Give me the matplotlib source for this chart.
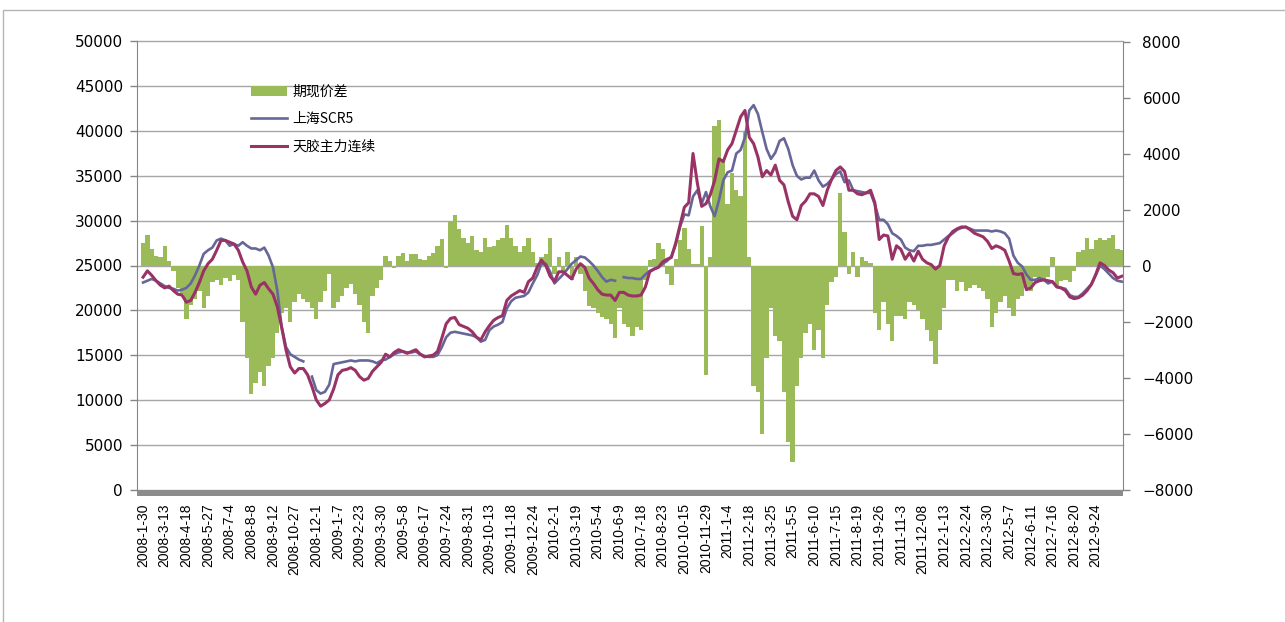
import numpy as np
import matplotlib
matplotlib.use("Agg")
import matplotlib.pyplot as plt
from matplotlib.patches import Rectangle
from matplotlib.font_manager import FontProperties

nan = np.nan

# tick labels shown on the category axis (every 5th weekly sample)
date_labels = [
    "2008-1-30", "2008-3-13", "2008-4-18", "2008-5-27", "2008-7-4", "2008-8-8",
    "2008-9-12", "2008-10-27", "2008-12-1", "2009-1-7", "2009-2-23", "2009-3-30",
    "2009-5-8", "2009-6-17", "2009-7-24", "2009-8-31", "2009-10-13", "2009-11-18",
    "2009-12-24", "2010-2-1", "2010-3-19", "2010-5-4", "2010-6-9", "2010-7-18",
    "2010-8-23", "2010-10-15", "2010-11-29", "2011-1-4", "2011-2-18", "2011-3-25",
    "2011-5-5", "2011-6-10", "2011-7-15", "2011-8-19", "2011-9-26", "2011-11-3",
    "2011-12-08", "2012-1-13", "2012-2-24", "2012-3-30", "2012-5-7", "2012-6-11",
    "2012-7-16", "2012-8-20", "2012-9-24",
]

# 天胶主力连续 (left axis)
tianjiao = [
    23700, 24400, 23900, 23300, 22800, 22500, 22700, 22200, 21800, 21700,
    20900, 21100, 22000, 23100, 24400, 25200, 25700, 26700, 27800, 27800,
    27600, 27400, 26700, 25400, 24400, 22600, 21800, 22800, 23100, 22400,
    21800, 20400, 18100, 15600, 13700, 13000, 13500, 13500, 12800, 11500,
    10000, 9300, 9600, 10000, 11200, 12800, 13300, 13400, 13600, 13300,
    12600, 12200, 12400, 13200, 13700, 14200, 15100, 14800, 15300, 15600,
    15400, 15200, 15400, 15600, 15100, 14800, 14900, 15000, 15400, 16900,
    18500, 19100, 19200, 18400, 18200, 18000, 17600, 17000, 16700, 17600,
    18300, 18900, 19200, 19400, 21100, 21600, 21900, 22200, 22000, 23200,
    23600, 24800, 25600, 25000, 23800, 23200, 24300, 24300, 23900, 23500,
    24600, 25200, 24800, 23600, 23000, 22300, 21800, 21700, 21700, 21100,
    22000, 22000, 21700, 21600, 21600, 21700, 22600, 24300, 24600, 24800,
    25400, 25700, 25900, 27500, 29500, 31500, 32000, 37500, 34200, 31600,
    31900, 32900, 34500, 36900, 36600, 37900, 38600, 40100, 41600, 42300,
    39300, 38600, 37100, 34900, 35600, 35100, 36200, 34500, 34000, 32100,
    30500, 30100, 31700, 32200, 33000, 33000, 32700, 31700, 33400, 34600,
    35600, 36000, 35500, 33400, 33400, 33000, 32900, 33100, 33400, 32000,
    27900, 28400, 28300, 25700, 27200, 26800, 25700, 26400, 25500, 26600,
    25700, 25300, 25100, 24600, 25000, 27200, 28200, 28800, 29100, 29300,
    29300, 29000, 28600, 28400, 28200, 27700, 26900, 27200, 27000, 26700,
    25500, 24100, 24000, 24100, 22300, 22500, 23100, 23300, 23400, 23300,
    23200, 22600, 22500, 22200, 21500, 21300, 21400, 21700, 22200, 22900,
    24000, 25300, 25000, 24500, 24200, 23600, 23800,
]

# 上海SCR5 (left axis), nan = missing quote
scr5 = [
    23100, 23300, 23500, 23300, 23000, 22700, 22500, 22400, 22200, 22300,
    22500, 23000, 23900, 25000, 26300, 26700, 27000, 27800, 28000, 27800,
    27200, 27400, 27200, 27600, 27200, 26900, 26900, 26700, 27000, 26100,
    24800, 22200, 18200, 15900, 15100, 14800, 14500, 14300, nan, 12600,
    11100, 10700, 10900, 11700, 14000, 14100, 14200, 14300, 14400, 14300,
    14400, 14400, 14400, 14300, 14100, 14400, 14500, 14800, 15100, 15300,
    15400, 15300, 15300, 15400, 15100, 14900, 14800, 14800, 15000, 15900,
    17000, 17500, 17600, 17500, 17400, 17300, 17200, 17000, 16500, 16700,
    17800, 18200, 18400, 18700, 20200, 21000, 21400, 21500, 21600, 22000,
    23000, 23900, 25200, 25200, 24300, 23000, 23500, 24000, 24600, 25200,
    25600, 26000, 25900, 25500, 25000, 24400, 23700, 23200, 23400, 23300,
    nan, 23700, 23600, 23600, 23500, 23500, 24000, 24400, 24600, 24800,
    25200, 25500, 26000, 27300, 29300, 30700, 30600, 32700, 33400, 31900,
    33200, 31600, 30500, 32300, 34500, 35400, 35600, 37500, 37900, 39300,
    42300, 42900, 41900, 39900, 38000, 36900, 37600, 38900, 39200, 38000,
    36200, 35000, 34600, 34800, 34800, 35600, 34500, 33800, 34100, 34600,
    35200, 35500, 34300, 34500, 33400, 33300, 33200, 33100, 33100, 31800,
    30100, 30100, 29600, 28600, 28300, 27900, 27000, 26700, 26600, 27200,
    27200, 27300, 27300, 27400, 27500, 27900, 28300, 28600, 29000, 29200,
    29300, 29100, 28900, 28900, 28900, 28900, 28800, 28900, 28800, 28600,
    28000, 26100, 25300, 24900, 24000, 23400, 23400, 23600, 23400, 23000,
    23200, 22700, 22500, 22400, 21700, 21500, 21500, 21900, 22400, 22900,
    23900, 25000, 24600, 24100, 23600, 23300, 23200,
]

# 期现价差 (right axis)
basis = [
    800, 1100, 600, 350, 300, 700, 150, -200, -800, -1000,
    -1900, -1400, -1200, -900, -1500, -1100, -600, -500, -700, -450,
    -550, -350, -500, -2000, -3300, -4600, -4200, -3800, -4300, -3600,
    -3300, -2400, -1700, -1500, -2000, -1300, -1000, -1200, -1300, -1500,
    -1900, -1300, -900, -300, -1500, -1300, -1100, -800, -650, -1000,
    -1400, -2000, -2400, -1100, -800, -500, 350, 150, -80, 350,
    450, 150, 400, 420, 250, 200, 350, 450, 700, 950,
    -100, 1600, 1800, 1300, 1000, 800, 1050, 550, 500, 1000,
    650, 700, 900, 1000, 1450, 1000, 700, 500, 700, 1000,
    500, 80, 300, 400, 1000, -300, 300, -200, 500, -500,
    300, -300, -900, -1450, -1500, -1700, -1850, -1900, -2100, -2600,
    -1500, -2100, -2200, -2500, -2200, -2300, -500, 200, 250, 800,
    600, -300, -700, 250, 900, 1350, 600, 50, 50, 1400,
    -3900, 300, 5000, 5200, 3800, 2200, 3300, 2700, 2500, 4800,
    300, -4300, -4500, -6000, -3300, -1500, -2500, -2700, -4500, -6300,
    -7000, -4300, -3300, -2400, -2100, -3000, -2300, -3300, -1400, -600,
    -400, 2600, 1200, -300, 500, -400, 300, 150, 100, -1700,
    -2300, -1300, -2100, -2700, -1800, -1800, -1900, -1300, -1400, -1600,
    -1900, -2300, -2700, -3500, -2300, -1500, -500, -500, -900, -600,
    -900, -800, -700, -800, -900, -1200, -2200, -1700, -1300, -1100,
    -1500, -1800, -1200, -1100, -800, -900, -400, -600, -500, -400,
    300, -700, -550, -500, -600, -200, 500, 550, 1000, 600,
    900, 1000, 900, 1000, 1100, 600, 550,
]

GREEN = "#9BBB59"
BLUE = "#666699"
RED = "#993366"
AXIS_GREY = "#868686"

W, H, DPI = 1285, 622, 100
fig = plt.figure(figsize=(W / DPI, H / DPI), dpi=DPI)


def px_rect(x0, y0, x1, y1):
    return [x0 / W, 1 - y1 / H, (x1 - x0) / W, (y1 - y0) / H]


rect = px_rect(137, 41.5, 1123, 489.5)
ax = fig.add_axes(rect)            # left axis + gridlines
axb = ax.twinx()                   # bars on the right axis
axl = fig.add_axes(rect, sharex=ax, sharey=ax, frameon=False)  # lines on top
ax.set_zorder(1)
axb.set_zorder(2)
axl.set_zorder(3)
axb.patch.set_visible(False)
axl.patch.set_visible(False)
axl.axis("off")

x = np.arange(len(tianjiao))
bars = axb.bar(x, basis, width=1.0, color=GREEN, linewidth=0, label="期现价差")
l1, = axl.plot(x, scr5, color=BLUE, lw=1.9, label="上海SCR5")
l2, = axl.plot(x, tianjiao, color=RED, lw=2.2, label="天胶主力连续")

ax.set_xlim(-1.4, 226.3)
ax.set_ylim(0, 50000)
ax.set_yticks(range(0, 50001, 5000))
axb.set_ylim(-8000, 8000)
axb.set_yticks(range(-8000, 8001, 2000))

ax.yaxis.grid(True, color="#A6A6A6", lw=1.0)
ax.set_axisbelow(True)
for gl in ax.get_ygridlines():
    gl.set_clip_on(False)

ax.set_xticks(x[::5][:len(date_labels)])
ax.set_xticklabels(date_labels, rotation=90, fontsize=10, family="Liberation Sans")
ax.tick_params(axis="x", length=0, pad=10)
ax.tick_params(axis="y", direction="out", length=5, width=1, color=AXIS_GREY,
               labelsize=11, pad=5)
axb.tick_params(axis="y", direction="out", length=5, width=1, color=AXIS_GREY,
                labelsize=11, pad=9)

for name, sp in ax.spines.items():
    sp.set_visible(name == "left")
    sp.set_color(AXIS_GREY)
for name, sp in axb.spines.items():
    sp.set_visible(name == "right")
    sp.set_color(AXIS_GREY)

# the dense category tick marks show as a solid grey band under the plot
ax.add_patch(Rectangle((0, -6 / 448), 1, 6 / 448, transform=ax.transAxes,
                       clip_on=False, color="#8C8C8C", lw=0))

# chart-area border of the screenshot
fig.add_artist(Rectangle((3 / W, -0.1), 1.5, 1.1 - 10 / H, transform=fig.transFigure,
                         fill=False, ec="#B4B4B4", lw=1))

axl.legend([bars, l1, l2], ["期现价差", "上海SCR5", "天胶主力连续"],
           loc="upper left", bbox_to_anchor=(251 / W, 1 - 85 / H),
           bbox_transform=fig.transFigure, frameon=False,
           prop=FontProperties(family="Noto Sans CJK SC", size=10),
           handlelength=2.6, handletextpad=0.4, labelspacing=0.95,
           borderpad=0, borderaxespad=0)

fig.savefig("out.png", dpi=DPI)
